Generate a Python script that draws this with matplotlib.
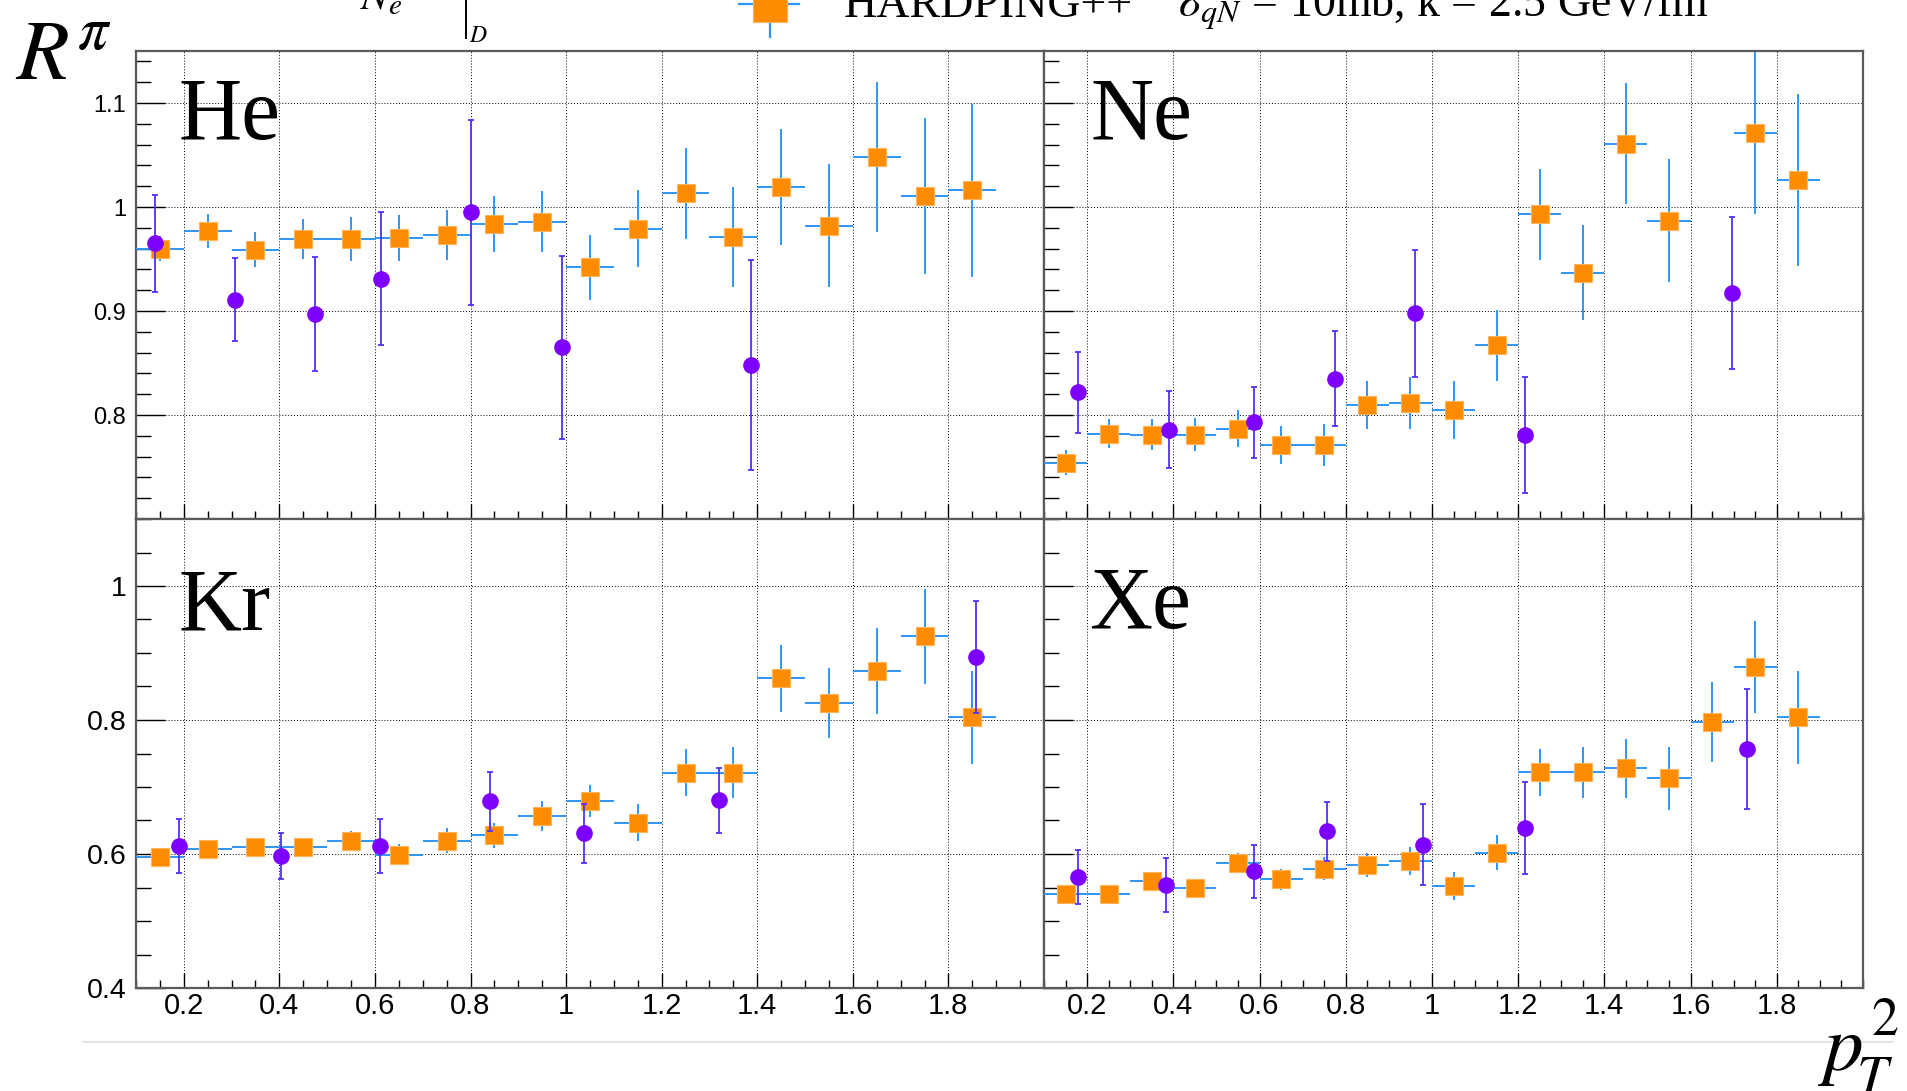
import numpy as np
import matplotlib
matplotlib.use('Agg')
import matplotlib.pyplot as plt
from matplotlib.ticker import FixedLocator, MultipleLocator
from matplotlib.lines import Line2D

# ── Canvas ─────────────────────────────────────────────────────
W, H = 1907, 1091
DPI = 100
plt.rcParams['mathtext.fontset'] = 'stix'
plt.rcParams['font.family'] = ['Liberation Sans', 'DejaVu Sans']

# ── Data ───────────────────────────────────────────────────────
# HARDPING++ bins in pT^2 (GeV^2), width 0.1
bin_centers = [0.15, 0.25, 0.35, 0.45, 0.55, 0.65, 0.75, 0.85, 0.95,
               1.05, 1.15, 1.25, 1.35, 1.45, 1.55, 1.65, 1.75, 1.85]
bin_half = 0.05

# He
he_model = [0.960, 0.977, 0.959, 0.969, 0.969, 0.970, 0.973, 0.984, 0.986,
            0.942, 0.979, 1.013, 0.971, 1.019, 0.982, 1.048, 1.011, 1.016]
he_model_err = [0.012, 0.016, 0.017, 0.019, 0.021, 0.022, 0.024, 0.027, 0.029,
                0.031, 0.037, 0.044, 0.048, 0.056, 0.059, 0.072, 0.075, 0.083]
he_data_x = [0.140, 0.307, 0.474, 0.613, 0.802, 0.991, 1.387]
he_data = [0.965, 0.911, 0.897, 0.931, 0.995, 0.865, 0.848]
he_data_err = [0.047, 0.040, 0.055, 0.064, 0.089, 0.088, 0.101]

# Ne (bin 1.65 off scale)
ne_model = [0.754, 0.782, 0.781, 0.781, 0.787, 0.771, 0.771, 0.810, 0.812,
            0.805, 0.867, 0.993, 0.937, 1.061, 0.987, np.nan, 1.071, 1.026]
ne_model_err = [0.012, 0.014, 0.015, 0.016, 0.018, 0.018, 0.020, 0.023, 0.025,
                0.028, 0.034, 0.044, 0.046, 0.058, 0.059, 0.070, 0.078, 0.083]
ne_data_x = [0.179, 0.389, 0.587, 0.775, 0.961, 1.216, 1.697]
ne_data = [0.822, 0.786, 0.793, 0.835, 0.898, 0.781, 0.917]
ne_data_err = [0.039, 0.037, 0.034, 0.046, 0.061, 0.056, 0.073]

# Kr
kr_model = [0.596, 0.608, 0.611, 0.610, 0.620, 0.599, 0.620, 0.628, 0.657,
            0.679, 0.647, 0.721, 0.721, 0.862, 0.825, 0.873, 0.925, 0.804]
kr_model_err = [0.010, 0.008, 0.008, 0.013, 0.014, 0.016, 0.019, 0.019, 0.022,
                0.024, 0.028, 0.035, 0.038, 0.050, 0.052, 0.064, 0.071, 0.069]
kr_data_x = [0.190, 0.404, 0.611, 0.840, 1.038, 1.320, 1.858]
kr_data = [0.612, 0.597, 0.612, 0.679, 0.631, 0.680, 0.894]
kr_data_err = [0.040, 0.034, 0.040, 0.044, 0.044, 0.049, 0.083]

# Xe
xe_model = [0.541, 0.540, 0.560, 0.549, 0.586, 0.562, 0.578, 0.584, 0.589,
            0.552, 0.602, 0.722, 0.722, 0.728, 0.713, 0.797, 0.879, 0.804]
xe_model_err = [0.010, 0.008, 0.013, 0.010, 0.015, 0.016, 0.017, 0.018, 0.021,
                0.021, 0.026, 0.035, 0.038, 0.044, 0.047, 0.059, 0.069, 0.069]
xe_data_x = [0.179, 0.382, 0.587, 0.757, 0.979, 1.216, 1.732]
xe_data = [0.566, 0.554, 0.574, 0.634, 0.614, 0.639, 0.757]
xe_data_err = [0.040, 0.040, 0.039, 0.044, 0.060, 0.069, 0.090]

nuclei = ['He', 'Ne', 'Kr', 'Xe']
x_major = [0.2, 0.4, 0.6, 0.8, 1.0, 1.2, 1.4, 1.6, 1.8]
x_labels = ['0.2', '0.4', '0.6', '0.8', '1', '1.2', '1.4', '1.6', '1.8']
top_major = [0.8, 0.9, 1.0, 1.1]
top_labels = ['0.8', '0.9', '1', '1.1']
bot_major = [0.4, 0.6, 0.8, 1.0]
bot_labels = ['0.4', '0.6', '0.8', '1']

# ── Styles ─────────────────────────────────────────────────────
C_MODEL = '#ff8c00'
C_MODEL_ERR = '#2e96f6'
C_DATA = '#7d00ff'
C_DATA_ERR = '#4d33ff'
C_FRAME = '#5a5a5a'


def fx(px):
    return px / W


def fy(py):
    return 1 - py / H


fig = plt.figure(figsize=(W / DPI, H / DPI), dpi=DPI)

# column / row edges in pixels
col_edges = [(136, 1044), (1044, 1863)]
row_edges = [(51, 519), (519, 988)]

panels = [
    (he_model, he_model_err, he_data_x, he_data, he_data_err),
    (ne_model, ne_model_err, ne_data_x, ne_data, ne_data_err),
    (kr_model, kr_model_err, kr_data_x, kr_data, kr_data_err),
    (xe_model, xe_model_err, xe_data_x, xe_data, xe_data_err),
]
label_pos = [(0.047, 0.811), (0.057, 0.811), (0.047, 0.765), (0.055, 0.768)]

for k, (model, model_err, dx, dy, derr) in enumerate(panels):
    r, c = divmod(k, 2)
    x0, x1 = col_edges[c]
    y0, y1 = row_edges[r]
    ax = fig.add_axes([fx(x0), fy(y1), (x1 - x0) / W, (y1 - y0) / H])
    ax.set_xlim(0.1, 2.0)
    if r == 0:
        ax.set_ylim(0.7, 1.15)
        ax.yaxis.set_major_locator(FixedLocator(top_major))
        ax.yaxis.set_minor_locator(MultipleLocator(0.02))
        ax.set_yticklabels(top_labels)
        ylab_size = 17
    else:
        ax.set_ylim(0.4, 1.1)
        ax.yaxis.set_major_locator(FixedLocator(bot_major))
        ax.yaxis.set_minor_locator(MultipleLocator(0.05))
        ax.set_yticklabels(bot_labels)
        ylab_size = 20.5
    ax.xaxis.set_major_locator(FixedLocator(x_major))
    ax.xaxis.set_minor_locator(MultipleLocator(0.05))
    ax.set_xticklabels(x_labels)

    ax.tick_params(axis='both', which='both', direction='in', top=False,
                   right=False, color='black', width=1.0)
    ax.tick_params(axis='y', which='major', length=21, pad=7, labelsize=ylab_size)
    ax.tick_params(axis='y', which='minor', length=10.5)
    ax.tick_params(axis='x', which='major', length=11, pad=3, labelsize=21)
    ax.tick_params(axis='x', which='minor', length=5.5)
    if r == 0:
        ax.tick_params(axis='x', labelbottom=False)
    if c == 1:
        ax.tick_params(axis='y', labelleft=False)

    ax.grid(True, which='major', color='black', linestyle=(0, (1, 2)),
            linewidth=0.7)
    ax.set_axisbelow(True)
    for sp in ax.spines.values():
        sp.set_color(C_FRAME)
        sp.set_linewidth(1.6)

    # HARDPING++ squares with bin-width error bars
    ax.errorbar(bin_centers, model, xerr=bin_half, yerr=model_err, fmt='none',
                ecolor=C_MODEL_ERR, elinewidth=1.4, capsize=0, zorder=3)
    ax.plot(bin_centers, model, 's', color=C_MODEL, markersize=13.5,
            markeredgecolor='#ffb45a', markeredgewidth=0.8, zorder=4,
            linestyle='none')
    # data points
    ax.errorbar(dx, dy, yerr=derr, fmt='none', ecolor=C_DATA_ERR,
                elinewidth=1.3, capsize=2.5, capthick=1.3, zorder=5)
    ax.plot(dx, dy, 'o', color=C_DATA, markersize=12, markeredgewidth=0,
            zorder=6, linestyle='none')

    lx, ly = label_pos[k]
    ax.text(lx, ly, nuclei[k], transform=ax.transAxes, fontsize=63,
            family='Liberation Serif', va='baseline', ha='left', zorder=7)

# ── Figure annotations (partly cut by the top edge, as in the source) ──
fig.text(fx(15), fy(80), r'$R^{\pi}$', fontsize=62, va='baseline', ha='left')
fig.text(fx(360), fy(9), r'$N_e$', fontsize=30, va='baseline', ha='left')
fig.add_artist(Line2D([fx(466), fx(466)], [fy(-2), fy(38)], color='black',
                      lw=1.4, transform=fig.transFigure))
fig.text(fx(469), fy(42), r'$D$', fontsize=17, va='baseline', ha='left')

# legend entry
fig.add_artist(Line2D([fx(739), fx(799)], [fy(4), fy(4)], color=C_MODEL_ERR,
                      lw=1.6, transform=fig.transFigure))
fig.add_artist(Line2D([fx(770), fx(770)], [fy(-20), fy(37)], color=C_MODEL_ERR,
                      lw=1.6, transform=fig.transFigure))
fig.add_artist(Line2D([fx(770)], [fy(5)], marker='s', markersize=24.5,
                      color=C_MODEL, markeredgecolor='#ffb45a',
                      markeredgewidth=0.8, transform=fig.transFigure))
fig.text(fx(844), fy(17), 'HARDPING++', fontsize=33, family='Liberation Serif',
         va='baseline', ha='left')
fig.text(fx(1178), fy(17), r'$\sigma_{qN}$ = 10mb, k = 2.5 GeV/fm', fontsize=33,
         family='Liberation Serif', va='baseline', ha='left')

# separator line and x-axis title p_T^2 (pieces placed as in the source)
fig.add_artist(Line2D([fx(83), fx(1893)], [fy(1042), fy(1042)], color='#e4e4e4',
                      lw=1.5, transform=fig.transFigure))
fig.text(fx(1818), fy(1070), r'$p$', fontsize=57, va='baseline', ha='left')
fig.text(fx(1871), fy(1035), r'$2$', fontsize=39, va='baseline', ha='left')
fig.text(fx(1856), fy(1094), r'$T$', fontsize=40, va='baseline', ha='left')

fig.savefig('out.png', dpi=DPI, facecolor='white')
